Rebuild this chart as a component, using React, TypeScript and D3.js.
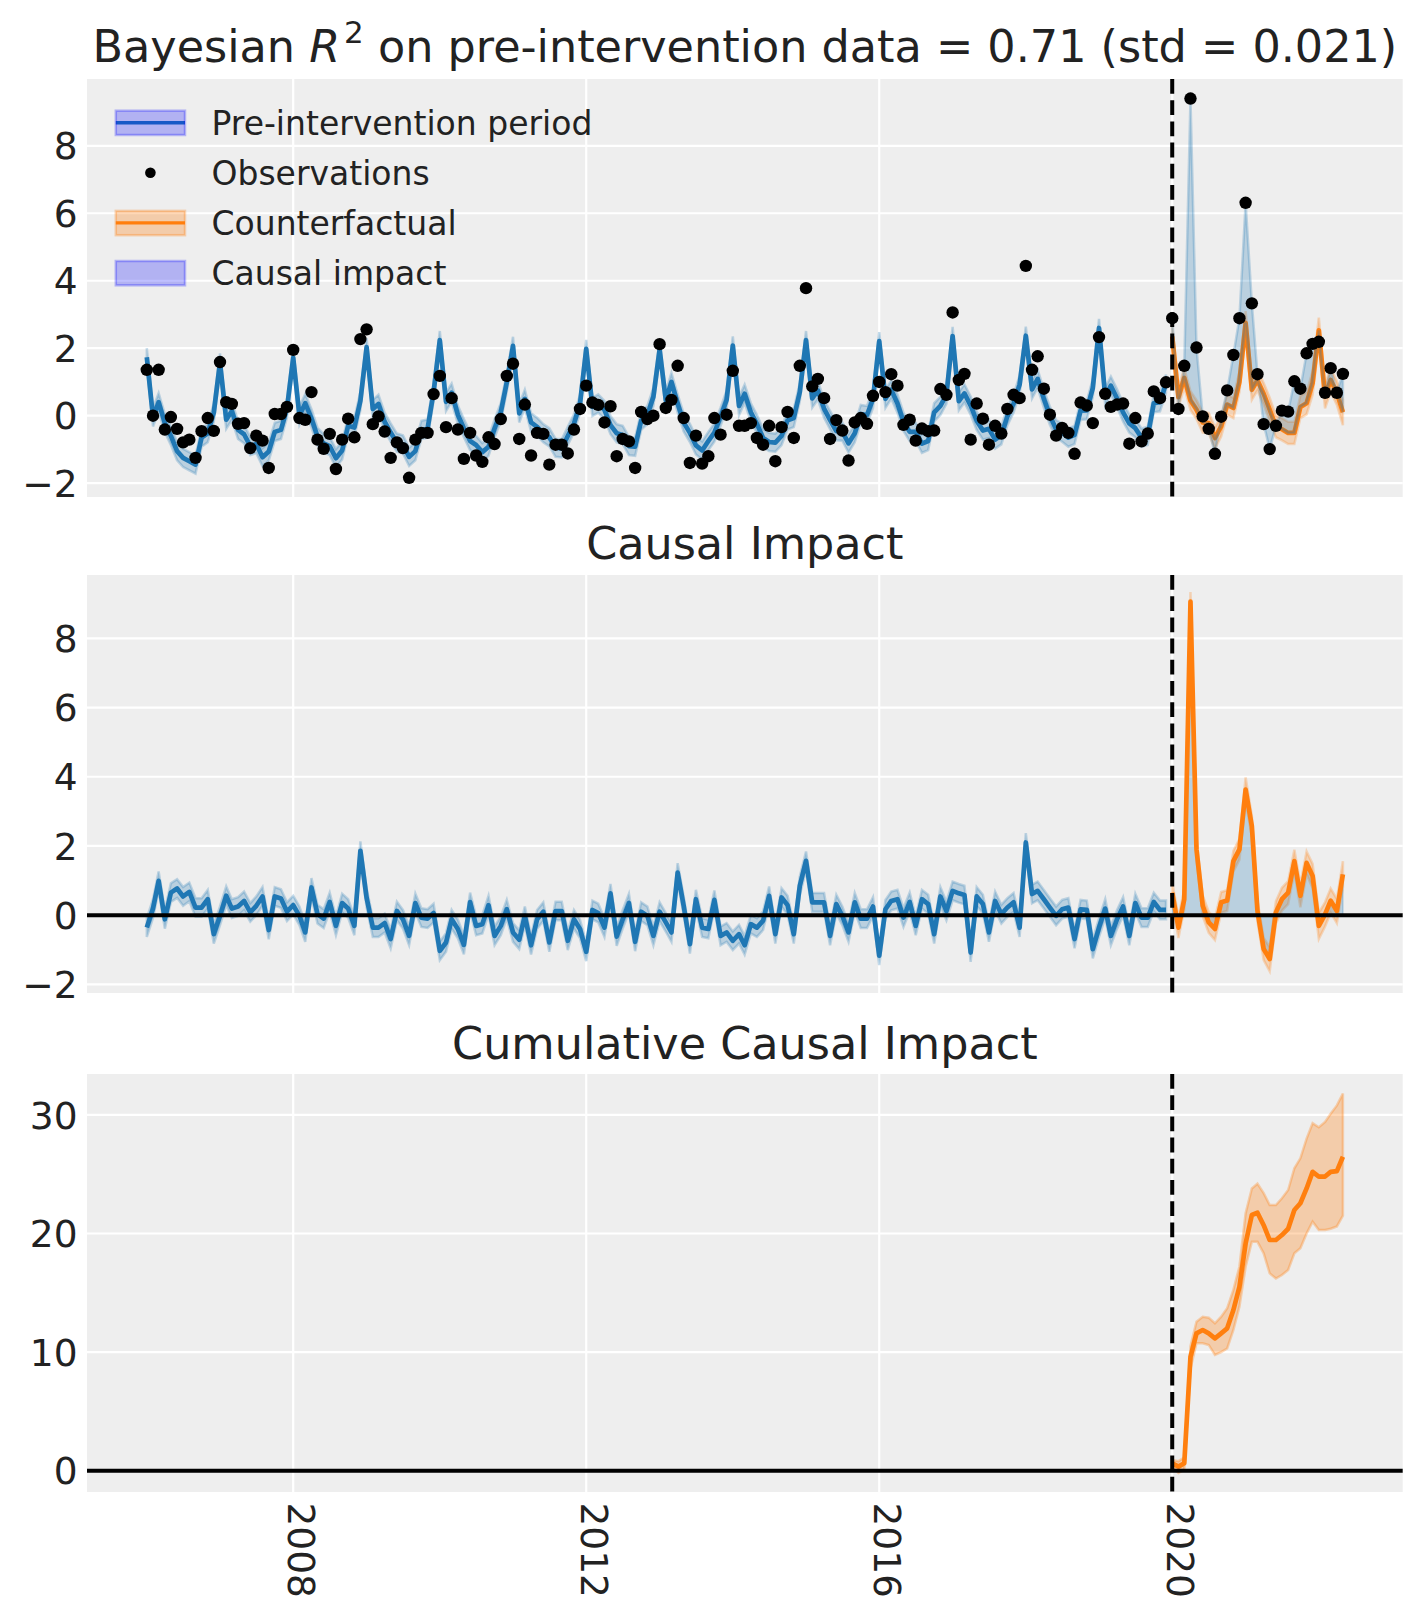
import * as d3 from 'd3'

// monthly data, first month Jan 2006, intervention Jan 2020
const firstMonth = new Date(2006, 0, 1)
const interventionDate = new Date(2020, 0, 1)

const observed: number[] = [
  1.36, 0.0, 1.36, -0.41, -0.04, -0.39, -0.79, -0.71, -1.25, -0.46, -0.07, -0.45,
  1.59, 0.4, 0.35, -0.24, -0.22, -0.96, -0.59, -0.74, -1.55, 0.05, 0.05, 0.26,
  1.95, -0.07, -0.12, 0.7, -0.71, -0.98, -0.54, -1.58, -0.71, -0.09, -0.64, 2.27,
  2.56, -0.25, -0.02, -0.47, -1.25, -0.79, -0.96, -1.84, -0.71, -0.51, -0.51, 0.64,
  1.18, -0.34, 0.52, -0.41, -1.28, -0.51, -1.18, -1.37, -0.64, -0.84, -0.1, 1.18,
  1.54, -0.69, 0.33, -1.18, -0.51, -0.54, -1.45, -0.86, -0.86, -1.12, -0.41, 0.2,
  0.89, 0.39, 0.32, -0.2, 0.28, -1.2, -0.69, -0.76, -1.55, 0.11, -0.1, 0.0,
  2.12, 0.23, 0.47, 1.48, -0.07, -1.4, -0.59, -1.42, -1.2, -0.07, -0.56, 0.03,
  1.33, -0.3, -0.3, -0.22, -0.66, -0.86, -0.3, -1.35, -0.34, 0.11, -0.66, 1.48,
  3.78, 0.87, 1.09, 0.52, -0.69, -0.13, -0.44, -1.33, -0.2, -0.07, -0.24, 0.59,
  1.0, 0.7, 1.23, 0.89, -0.27, -0.12, -0.74, -0.38, -0.46, -0.44, 0.79, 0.62,
  3.06, 1.06, 1.24, -0.71, 0.36, -0.09, -0.86, -0.3, -0.53, 0.2, 0.62, 0.52,
  4.44, 1.36, 1.76, 0.8, 0.03, -0.59, -0.36, -0.51, -1.13, 0.39, 0.3, -0.22,
  2.33, 0.65, 0.26, 0.33, 0.36, -0.83, -0.07, -0.76, -0.53, 0.72, 0.52, 0.99,
  2.89, 0.2, 1.48, 9.4, 2.02, -0.02, -0.39, -1.13, -0.03, 0.75, 1.8, 2.89,
  6.31, 3.33, 1.23, -0.25, -0.99, -0.3, 0.15, 0.12, 1.02, 0.8, 1.85, 2.13,
  2.19, 0.68, 1.41, 0.68, 1.24,
]

// posterior mean of the model on the pre-intervention period
const preMean: number[] = [
  1.73, -0.05, 0.4, -0.22, -0.6, -1.05, -1.25, -1.35, -1.45, -0.65, -0.52, 0.09,
  1.58, -0.12, 0.14, -0.42, -0.55, -0.9, -0.84, -1.23, -1.06, -0.48, -0.42, 0.22,
  1.72, 0.0, 0.37, -0.08, -0.62, -0.82, -0.9, -1.26, -1.03, -0.3, -0.35, 0.44,
  2.03, 0.2, 0.35, -0.18, -0.5, -0.8, -0.85, -1.22, -1.05, -0.42, -0.38, 0.7,
  2.24, 0.41, 0.68, 0.03, -0.37, -0.75, -0.87, -1.08, -0.92, -0.38, 0.1, 0.99,
  2.07, 0.07, 0.5, -0.2, -0.33, -0.52, -0.64, -0.95, -0.97, -0.6, -0.23, 0.35,
  1.98, 0.26, 0.36, 0.17, -0.28, -0.52, -0.57, -0.9, -0.92, -0.15, 0.02, 0.56,
  1.96, 0.45, 1.0, 0.36, -0.2, -0.51, -0.88, -1.03, -0.75, -0.5, -0.03, 0.47,
  2.08, 0.29, 0.65, 0.1, -0.24, -0.66, -0.78, -0.8, -0.6, -0.14, -0.07, 0.7,
  2.24, 0.51, 0.75, 0.21, -0.13, -0.46, -0.47, -0.82, -0.52, 0.05, 0.02, 0.5,
  2.21, 0.5, 0.77, 0.36, -0.18, -0.48, -0.48, -0.83, -0.75, 0.1, 0.29, 0.62,
  2.36, 0.43, 0.66, 0.3, -0.15, -0.44, -0.39, -0.71, -0.58, -0.02, 0.36, 0.92,
  2.37, 0.78, 1.09, 0.5, 0.0, -0.4, -0.5, -0.65, -0.57, 0.15, 0.16, 0.82,
  2.6, 0.56, 0.89, 0.51, 0.1, -0.23, -0.37, -0.65, -0.6, 0.37, 0.4, 0.95,
]
const preHdiHalf = 0.27

// counterfactual mean after the intervention
const postMean: number[] = [
  2.35, 0.55, 1.12, 0.45, 0.18, -0.2, -0.22, -0.66, -0.32, 0.33, 0.23, 1.0,
  2.75, 0.77, 1.05, 0.65, 0.18, -0.32, -0.4, -0.51, -0.51, 0.26, 0.37, 0.97,
  2.53, 0.57, 1.06, 0.67, 0.1,
]
const postHdiHalf: number[] = [
  0.3, 0.3, 0.28, 0.28, 0.28, 0.3, 0.3, 0.32, 0.3, 0.3, 0.3, 0.3,
  0.35, 0.3, 0.3, 0.32, 0.35, 0.32, 0.33, 0.33, 0.33, 0.33, 0.33, 0.35,
  0.38, 0.35, 0.35, 0.35, 0.38,
]

const impact: number[] = [
  -0.36, 0.19, 0.99, -0.12, 0.65, 0.77, 0.54, 0.67, 0.22, 0.22, 0.46, -0.55,
  -0.02, 0.56, 0.19, 0.25, 0.41, 0.08, 0.27, 0.54, -0.43, 0.54, 0.48, 0.1,
  0.29, -0.02, -0.5, 0.8, 0.03, -0.1, 0.38, -0.31, 0.35, 0.19, -0.31, 1.86,
  0.5, -0.36, -0.36, -0.23, -0.69, 0.12, -0.12, -0.6, 0.35, -0.07, -0.1, 0.06,
  -1.03, -0.79, -0.12, -0.4, -0.86, 0.38, -0.31, -0.26, 0.29, -0.6, -0.31, 0.17,
  -0.5, -0.71, -0.02, -0.87, -0.12, 0.1, -0.79, 0.12, 0.12, -0.74, -0.12, -0.4,
  -1.06, 0.15, 0.06, -0.36, 0.63, -0.62, -0.12, 0.35, -0.77, 0.1, -0.02, -0.6,
  0.1, -0.21, -0.5, 1.23, 0.27, -0.84, 0.46, -0.36, -0.4, 0.44, -0.6, -0.5,
  -0.74, -0.55, -0.87, -0.26, -0.36, -0.16, 0.56, -0.55, 0.51, 0.29, -0.55, 0.85,
  1.57, 0.37, 0.37, 0.37, -0.6, 0.32, -0.02, -0.5, 0.37, -0.1, -0.1, 0.25,
  -1.17, 0.17, 0.41, 0.46, -0.07, 0.38, -0.31, 0.46, 0.32, -0.55, 0.54, 0.12,
  0.7, 0.63, 0.58, -1.08, 0.54, 0.32, -0.5, 0.41, 0.03, 0.22, 0.37, -0.36,
  2.1, 0.61, 0.7, 0.46, 0.22, -0.02, 0.17, 0.22, -0.69, 0.17, 0.15, -0.98,
  -0.36, 0.19, -0.6, -0.12, 0.25, -0.6, 0.35, -0.07, -0.07, 0.38, 0.15, 0.15,
  0.65, -0.36, 0.46, 9.06, 1.9, 0.27, -0.21, -0.4, 0.37, 0.42, 1.56, 1.9,
  3.63, 2.57, 0.12, -0.98, -1.27, 0.08, 0.46, 0.65, 1.56, 0.56, 1.51, 1.13,
  -0.31, 0.02, 0.42, 0.12, 1.18,
]

const cumMean: number[] = [
  0.62, 0.34, 0.62, 9.6, 11.58, 11.86, 11.58, 11.16, 11.58, 12.0, 13.55, 15.5,
  19.17, 21.56, 21.75, 20.7, 19.45, 19.45, 19.87, 20.4, 21.98, 22.55, 23.8, 25.2,
  24.8, 24.8, 25.2, 25.26, 26.47,
]
const cumLow: number[] = [
  0.3, -0.2, 0.1, 8.6, 10.74, 10.74, 10.6, 9.76, 10.0, 10.3, 11.86, 13.83,
  17.2, 19.3, 19.3, 18.33, 16.64, 16.2, 16.5, 16.92, 18.33, 18.75, 20.0, 21.0,
  20.3, 20.3, 20.4, 20.6, 21.5,
]
const cumHigh: number[] = [
  0.9, 0.8, 1.1, 10.5, 12.56, 12.98, 12.9, 12.43, 12.98, 13.7, 15.24, 17.2,
  21.7, 23.8, 24.2, 23.4, 22.4, 22.4, 22.97, 23.67, 25.5, 26.34, 28.0, 29.3,
  28.96, 29.4, 30.1, 30.8, 31.8,
]

const yearTicks = [2008, 2012, 2016, 2020]
const impactTicks = [-2, 0, 2, 4, 6, 8]
const cumTicks = [0, 10, 20, 30]
const legendLabels = ['Pre-intervention period', 'Observations', 'Counterfactual', 'Causal impact']

const C0 = '#1f77b4'
const C1 = '#ff7f0e'
const FONT = 'DejaVu Sans'
const INK = '#222222'
const LEFT = 87
const RIGHT = 1402.7
const PANEL_H = 418
const TOPS = [79, 575, 1074]
const LW = 4.7

const fmt = (t: number) => (t < 0 ? '\u2212' + Math.abs(t) : String(t))

export default function App() {
  const months = d3.timeMonth.range(firstMonth, d3.timeMonth.offset(firstMonth, observed.length))
  const nPre = preMean.length
  const preMonths = months.slice(0, nPre)
  const postMonths = months.slice(nPre)
  const t0 = +months[0]
  const t1 = +months[months.length - 1]
  const pad = (t1 - t0) * 0.05
  const x = d3.scaleTime().domain([new Date(t0 - pad), new Date(t1 + pad)]).range([LEFT, RIGHT])

  const y1 = d3.scaleLinear().domain([-2.41, 9.98]).range([TOPS[0] + PANEL_H, TOPS[0]])
  const y2 = d3.scaleLinear().domain([-2.25, 9.83]).range([TOPS[1] + PANEL_H, TOPS[1]])
  const y3 = d3.scaleLinear().domain([-1.8, 33.45]).range([TOPS[2] + PANEL_H, TOPS[2]])

  const xi = (dates: Date[]) => (_: number, i: number) => x(dates[i])

  // panel 1
  const preBand1 = d3.area<number>().x(xi(preMonths)).y0(d => y1(d - preHdiHalf)).y1(d => y1(d + preHdiHalf))(preMean)
  const preLine1 = d3.line<number>().x(xi(preMonths)).y(d => y1(d))(preMean)
  const postBand1 = d3.area<number>().x(xi(postMonths))
    .y0((d, i) => y1(d - postHdiHalf[i])).y1((d, i) => y1(d + postHdiHalf[i]))(postMean)
  const postLine1 = d3.line<number>().x(xi(postMonths)).y(d => y1(d))(postMean)
  const effectFill1 = d3.area<number>().x(xi(postMonths))
    .y0((_, i) => y1(postMean[i])).y1(d => y1(d))(observed.slice(nPre))

  // panel 2
  const preImpact = impact.slice(0, nPre)
  const postImpact = impact.slice(nPre)
  const preBand2 = d3.area<number>().x(xi(preMonths)).y0(d => y2(d - preHdiHalf)).y1(d => y2(d + preHdiHalf))(preImpact)
  const preLine2 = d3.line<number>().x(xi(preMonths)).y(d => y2(d))(preImpact)
  const postBand2 = d3.area<number>().x(xi(postMonths))
    .y0((d, i) => y2(d - postHdiHalf[i])).y1((d, i) => y2(d + postHdiHalf[i]))(postImpact)
  const postFill2 = d3.area<number>().x(xi(postMonths)).y0(y2(0)).y1(d => y2(d))(postImpact)
  const postLine2 = d3.line<number>().x(xi(postMonths)).y(d => y2(d))(postImpact)

  // panel 3
  const cumBand = d3.area<number>().x(xi(postMonths)).y0((_, i) => y3(cumLow[i])).y1(d => y3(d))(cumHigh)
  const cumLine = d3.line<number>().x(xi(postMonths)).y(d => y3(d))(cumMean)

  const xInt = x(interventionDate)
  const centerX = (LEFT + RIGHT) / 2

  const frame = (top: number, y: d3.ScaleLinear<number, number>, ticks: number[]) => (
    <g>
      <rect x={LEFT} y={top} width={RIGHT - LEFT} height={PANEL_H} fill="#eeeeee" />
      {yearTicks.map(yr => (
        <line key={'v' + yr} x1={x(new Date(yr, 0, 1))} x2={x(new Date(yr, 0, 1))} y1={top} y2={top + PANEL_H}
          stroke="#ffffff" strokeWidth={2.2} />
      ))}
      {ticks.map(t => (
        <g key={'h' + t}>
          <line x1={LEFT} x2={RIGHT} y1={y(t)} y2={y(t)} stroke="#ffffff" strokeWidth={2.2} />
          <text x={77.5} y={y(t) + 13.7} textAnchor="end" fontSize={37.5} fill={INK}>{fmt(t)}</text>
        </g>
      ))}
    </g>
  )

  const dashed = (top: number) => (
    <line x1={xInt} x2={xInt} y1={top} y2={top + PANEL_H} stroke="#000000" strokeWidth={4}
      strokeDasharray="14.8 6.4" />
  )

  const band = (d: string | null, color: string, op = 0.25) => (
    <path d={d ?? ''} fill={color} fillOpacity={op} stroke={color} strokeOpacity={op} strokeWidth={2.5} />
  )
  const curve = (d: string | null, color: string) => (
    <path d={d ?? ''} fill="none" stroke={color} strokeWidth={LW} strokeLinejoin="round" />
  )

  const legendRow = (k: number) => 122.7 + k * 50.1

  return (
    <div style={{ position: 'absolute', left: 0, top: 0 }}>
      <svg width={1423} height={1623} fontFamily={FONT} style={{ display: 'block', background: '#ffffff' }}>
        {/* panel 1 */}
        <text x={centerX} y={62.3} textAnchor="middle" fontSize={44.5} fill={INK}>
          {'Bayesian '}
          <tspan fontStyle="italic">R</tspan>
          <tspan dx={4} dy={-19} fontSize={31}>2</tspan>
          <tspan dy={19}>{' on pre-intervention data = 0.71 (std = 0.021)'}</tspan>
        </text>
        {frame(TOPS[0], y1, impactTicks)}
        {band(preBand1, C0)}
        {curve(preLine1, C0)}
        {band(postBand1, C1)}
        {curve(postLine1, C1)}
        {band(effectFill1, C0)}
        {observed.map((v, i) => (
          <circle key={i} cx={x(months[i])} cy={y1(v)} r={6.2} fill="#000000" />
        ))}
        {dashed(TOPS[0])}

        {/* legend */}
        {legendLabels.map((label, k) => {
          const cy = legendRow(k)
          return (
            <g key={label}>
              {k === 0 && <line x1={115.8} x2={185} y1={cy} y2={cy} stroke={C0} strokeWidth={3.4} />}
              {k === 2 && <line x1={115.8} x2={185} y1={cy} y2={cy} stroke={C1} strokeWidth={3.4} />}
              {k === 1 && <circle cx={150.4} cy={cy} r={5.3} fill="#000000" />}
              {k === 0 || k === 3 ? (
                <rect x={115.8} y={cy - 12} width={69.2} height={24.3} fill="#0000ff" fillOpacity={0.25}
                  stroke="#0000ff" strokeOpacity={0.25} strokeWidth={2.5} />
              ) : null}
              {k === 2 && (
                <rect x={115.8} y={cy - 12} width={69.2} height={24.3} fill={C1} fillOpacity={0.3}
                  stroke={C1} strokeOpacity={0.3} strokeWidth={2.5} />
              )}
              <text x={211.5} y={cy + 12} fontSize={33} fill={INK}>{label}</text>
            </g>
          )
        })}

        {/* panel 2 */}
        <text x={centerX} y={TOPS[1] - 16} textAnchor="middle" fontSize={44.5} fill={INK}>Causal Impact</text>
        {frame(TOPS[1], y2, impactTicks)}
        {band(preBand2, C0)}
        {curve(preLine2, C0)}
        {band(postBand2, C1)}
        <path d={postFill2 ?? ''} fill={C0} fillOpacity={0.25} stroke={C0} strokeOpacity={0.25} strokeWidth={1.5} />
        {curve(postLine2, C1)}
        <line x1={LEFT} x2={RIGHT} y1={y2(0)} y2={y2(0)} stroke="#000000" strokeWidth={4} />
        {dashed(TOPS[1])}

        {/* panel 3 */}
        <text x={centerX} y={TOPS[2] - 15.5} textAnchor="middle" fontSize={44.5} fill={INK}>Cumulative Causal Impact</text>
        {frame(TOPS[2], y3, cumTicks)}
        {band(cumBand, C1, 0.3)}
        {curve(cumLine, C1)}
        <line x1={LEFT} x2={RIGHT} y1={y3(0)} y2={y3(0)} stroke="#000000" strokeWidth={4} />
        {dashed(TOPS[2])}

        {/* shared x axis labels */}
        {yearTicks.map(yr => (
          <text key={yr} transform={`translate(${x(new Date(yr, 0, 1))},1502.5) rotate(90)`} x={0} y={5}
            fontSize={37.5} fill={INK}>{yr}</text>
        ))}
      </svg>
    </div>
  )
}
